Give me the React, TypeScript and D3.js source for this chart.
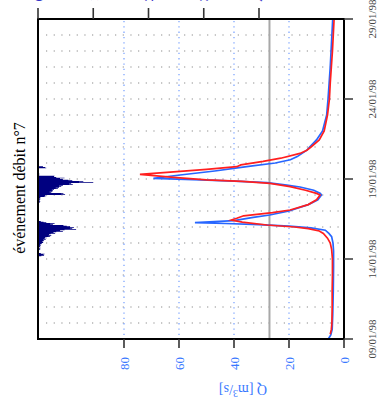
import React from "react";
import * as d3 from "d3";

// time in days since 09/01/98
const dateLabels = ["09/01/98", "14/01/98", "19/01/98", "24/01/98", "29/01/98"];
const dateTickDays = [0, 5, 10, 15, 20];
const gridDays = [1, 2, 3, 4, 5, 6, 7, 8, 9, 10, 11, 12, 13, 14, 15, 16, 17, 18, 19];
const qTicks = [0, 20, 40, 60, 80];
const qGrid = [20, 40, 60, 80];
const rainTicks = [0, 10, 20, 30, 40];
const threshold = 27.1;

const blueT = [0, 0.25, 0.6, 1.5, 3, 4.5, 5.5, 6.0, 6.4, 6.6, 6.8, 6.95, 7.05, 7.15, 7.22, 7.27, 7.4, 7.6, 7.75, 8.0, 8.4, 8.7, 9.0, 9.1, 9.3, 9.5, 9.62, 9.77, 9.87, 9.95, 10.04, 10.25, 10.5, 10.77, 11.0, 11.2, 11.4, 11.8, 12.0, 12.44, 13.0, 14, 15, 16, 17, 18, 19, 20];
const blueQ = [5.7, 4.8, 4.3, 4.1, 3.9, 3.8, 3.8, 4.0, 4.5, 5.5, 6.8, 12, 20, 31, 43, 54.2, 40, 33, 27, 20, 13, 9.5, 8.2, 8.6, 11, 16, 20.8, 28, 40, 52, 69.3, 59.6, 47, 35.4, 25, 19.5, 17, 13.5, 12.5, 10, 7.8, 6.3, 5.8, 5.4, 5.0, 4.7, 4.4, 4.1];

const redT = [0.3, 0.6, 1, 2, 3, 4, 5, 5.6, 6.0, 6.3, 6.6, 6.75, 6.9, 7.0, 7.125, 7.3, 7.44, 7.55, 7.7, 7.9, 8.06, 8.4, 8.7, 9.0, 9.1, 9.3, 9.52, 9.73, 9.85, 9.95, 10.1, 10.29, 10.45, 10.6, 10.77, 10.88, 11.1, 11.3, 11.6, 11.8, 12.0, 12.44, 13.0, 14, 15, 16, 17, 18, 19, 20];
const redQ = [5.0, 4.6, 4.4, 4.3, 4.3, 4.2, 4.2, 4.5, 5.0, 6.0, 7.5, 9, 13, 18, 28, 37, 41, 39, 36.5, 26, 19.6, 13, 10, 8.7, 10, 14, 19.6, 26.9, 37, 50, 62, 74.2, 62, 50, 39, 37.5, 29.4, 23, 16, 13.5, 12, 9, 7.2, 6.0, 5.3, 5.0, 4.6, 4.2, 3.9, 3.6];

// hourly rain, event A starts at hour 124, event B at hour 204
const rainAStart = 124;
const rainA = [0.6, 1.1, 1.0, 1.2, 0.5, 0, 0, 0, 0.2, 0, 0.4, 0.3, 0.5, 0.2, 0.4, 0.3, 0.5, 0.4, 0.6, 0.7, 0.9, 1.0, 0.8, 1.1, 0.9, 1.4, 1.2, 1.6, 1.3, 2.2, 1.9, 2.4, 2.0, 2.3, 3.1, 2.8, 3.3, 4.5, 4.0, 4.8, 6.9, 6.2, 5.8, 6.5, 5.8, 5.2, 4.6, 2.7, 2.2, 3.0, 1.5, 1.0, 0.5];
const rainBStart = 204;
const rainB = [0.3, 0.2, 0.4, 0.3, 0.2, 0.4, 0.3, 0.5, 0.4, 1.2, 1.5, 1.3, 4.9, 4.2, 4.6, 2.4, 2.1, 2.6, 2.7, 2.5, 2.9, 3.6, 3.2, 3.8, 4.2, 3.8, 4.5, 6.3, 5.6, 6.0, 10.0, 7.4, 8.2, 6.2, 5.5, 4.5, 4.0, 4.8, 3.3, 2.9, 3.0, 0.2, 0, 0.3, 0, 0, 0.2, 0, 0, 0.1, 0, 0, 1.5, 1.3, 0.9];

export default function App() {
  const L = 38, R = 344, T = 19, B = 339;
  const q = d3.scaleLinear().domain([0, 111.27]).range([R, L]);
  const t = d3.scaleLinear().domain([0, 20]).range([B, T]);
  const r = d3.scaleLinear().domain([0, 10]).range([L, 93.25]);

  const line = d3
    .line<[number, number]>()
    .x((d) => q(d[1]))
    .y((d) => t(d[0]));
  const blueData: [number, number][] = blueT.map((v, i) => [v, blueQ[i]]);
  const redData: [number, number][] = redT.map((v, i) => [v, redQ[i]]);

  const rainArea = d3
    .area<{ h: number; v: number }>()
    .y((d) => t(d.h / 24))
    .x0(L)
    .x1((d) => r(d.v))
    .curve(d3.curveStepBefore);
  const toPts = (start: number, vals: number[]) => {
    const pts = vals.map((v, i) => ({ h: start + i, v }));
    pts.push({ h: start + vals.length, v: 0 });
    return pts;
  };

  const serif = "'Liberation Serif', 'Times New Roman', serif";

  return (
    <svg
      width={380}
      height={417}
      style={{ position: "absolute", left: 0, top: 0, background: "#fff" }}
      fontFamily={serif}
    >
      {/* horizontal dotted day grid */}
      {gridDays.map((d) => (
        <line
          key={"g" + d}
          x1={46}
          x2={341}
          y1={t(d)}
          y2={t(d)}
          stroke="#8a8a8a"
          strokeWidth={1.2}
          strokeDasharray="1.2,6.47"
        />
      ))}
      {/* vertical blue dotted grid */}
      {qGrid.map((v) => (
        <line
          key={"qg" + v}
          x1={q(v)}
          x2={q(v)}
          y1={T + 2}
          y2={B - 2}
          stroke="#7fa6ff"
          strokeWidth={1.3}
          strokeDasharray="1.3,4"
        />
      ))}
      {/* threshold */}
      <line x1={q(threshold)} x2={q(threshold)} y1={T} y2={B} stroke="#a8a8a8" strokeWidth={2} />

      {/* rain bars */}
      <path d={rainArea(toPts(rainAStart, rainA)) || ""} fill="#000080" />
      <path d={rainArea(toPts(rainBStart, rainB)) || ""} fill="#000080" />

      {/* series */}
      <path d={line(blueData) || ""} fill="none" stroke="#2766ff" strokeWidth={1.7} />
      <path d={line(redData) || ""} fill="none" stroke="#ff1f1f" strokeWidth={1.7} />

      {/* frame */}
      <rect x={L} y={T} width={R - L} height={B - T} fill="none" stroke="#000" strokeWidth={2} />

      {/* top (rain) ticks */}
      {rainTicks.map((v) => (
        <g key={"rt" + v}>
          <line x1={r(v)} x2={r(v)} y1={8} y2={T} stroke="#333" strokeWidth={1.6} />
          <text
            transform={`translate(${r(v)},1.4) rotate(-90)`}
            textAnchor="start"
            dy="0.35em"
            fontSize={13}
            fill="#3535c8"
          >
            {String(v)}
          </text>
        </g>
      ))}

      {/* Q ticks */}
      {qTicks.map((v) => (
        <g key={"qt" + v}>
          <line x1={q(v)} x2={q(v)} y1={B} y2={B + 9} stroke="#333" strokeWidth={1.6} />
          <text
            transform={`translate(${q(v)},${B + 18}) rotate(-90)`}
            textAnchor="end"
            dy="0.35em"
            fontSize={13}
            fill="#3a78ff"
          >
            {String(v)}
          </text>
        </g>
      ))}
      <text transform={`translate(243,385) rotate(180)`} textAnchor="middle" fontSize={14} fill="#3a78ff">
        Q [m
        <tspan fontSize={10} dy={-5}>
          3
        </tspan>
        <tspan dy={5}>/s]</tspan>
      </text>

      {/* date ticks */}
      {dateTickDays.map((d, i) => (
        <g key={"dt" + d}>
          <line x1={R} x2={R + 9} y1={t(d)} y2={t(d)} stroke="#444" strokeWidth={1.6} />
          <text
            transform={`translate(376,${t(d)}) rotate(-90)`}
            textAnchor="middle"
            fontSize={11}
            fill="#444"
          >
            {dateLabels[i]}
          </text>
        </g>
      ))}

      {/* title */}
      <text transform="translate(25,188) rotate(-90)" textAnchor="middle" fontSize={16} fill="#000">
        événement débit n°7
      </text>
    </svg>
  );
}
